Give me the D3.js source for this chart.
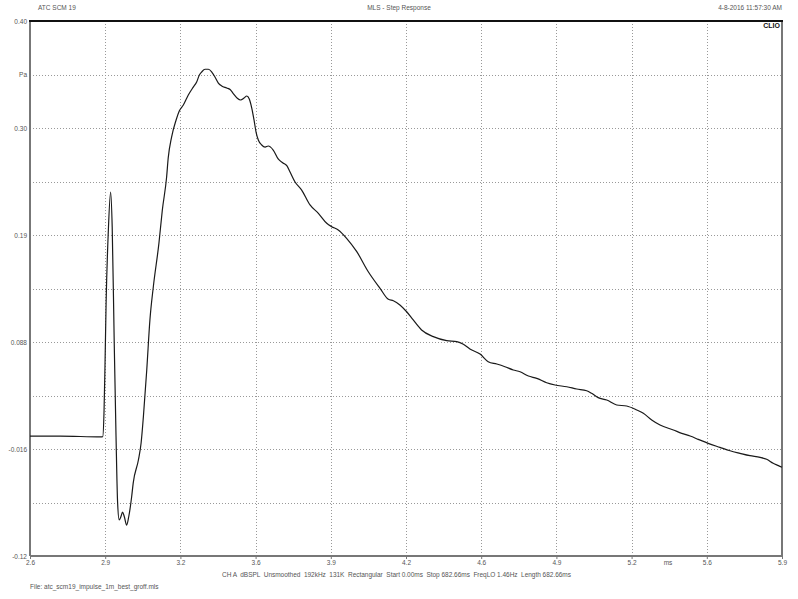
<!DOCTYPE html>
<html><head><meta charset="utf-8">
<script src="https://cdn.jsdelivr.net/npm/d3@7"></script>
<style>body{margin:0;background:#fff}svg text{font-family:"Liberation Sans",Arial,sans-serif;}</style>
</head><body><svg id="c" width="798" height="599"></svg>
<script>
const title = "MLS - Step Response";
const leftTitle = "ATC SCM 19";
const dateText = "4-8-2016 11:57:30 AM";
const xTickLabels = ["2.6","2.9","3.2","3.6","3.9","4.2","4.6","4.9","5.2","5.6","5.9"];
const yTickLabels = ["-0.12","","-0.016","","0.088","","0.19","","0.30","","0.40"];
const yUnitLabel = "Pa";
const xUnitLabel = "ms";
const timeMs = [2.600,2.733,2.914,2.922,2.928,2.932,2.937,2.947,2.957,2.964,2.973,2.981,2.988,2.995,3.002,3.010,3.018,3.028,3.037,3.050,3.057,3.080,3.092,3.102,3.117,3.131,3.146,3.171,3.186,3.205,3.212,3.227,3.247,3.261,3.279,3.301,3.323,3.338,3.350,3.360,3.375,3.390,3.405,3.419,3.434,3.449,3.471,3.486,3.500,3.518,3.533,3.548,3.560,3.571,3.582,3.592,3.601,3.611,3.626,3.641,3.655,3.677,3.699,3.720,3.738,3.751,3.773,3.803,3.840,3.877,3.914,3.936,3.965,4.002,4.047,4.098,4.150,4.187,4.209,4.238,4.268,4.297,4.334,4.386,4.445,4.490,4.519,4.548,4.593,4.629,4.667,4.703,4.740,4.770,4.807,4.844,4.888,4.925,4.977,5.021,5.065,5.087,5.116,5.154,5.198,5.242,5.287,5.316,5.353,5.390,5.449,5.486,5.523,5.559,5.603,5.655,5.700,5.744,5.788,5.833,5.862,5.891,5.914,5.930];
const pressurePa = [-0.0034,-0.0034,-0.0043,-0.0041,0.0219,0.0637,0.1259,0.1969,0.2338,0.1998,0.0870,-0.0043,-0.0685,-0.0850,-0.0821,-0.0773,-0.0821,-0.0899,-0.0821,-0.0627,-0.0491,-0.0267,-0.0102,0.0151,0.0608,0.1094,0.1415,0.1842,0.2163,0.2484,0.2668,0.2872,0.3038,0.3125,0.3184,0.3281,0.3358,0.3407,0.3475,0.3504,0.3531,0.3531,0.3504,0.3456,0.3397,0.3368,0.3349,0.3334,0.3295,0.3249,0.3232,0.3252,0.3271,0.3242,0.3154,0.3038,0.2921,0.2843,0.2795,0.2775,0.2785,0.2746,0.2659,0.2620,0.2591,0.2535,0.2438,0.2357,0.2212,0.2131,0.2034,0.2001,0.1969,0.1888,0.1758,0.1563,0.1402,0.1295,0.1281,0.1240,0.1174,0.1094,0.0997,0.0932,0.0893,0.0883,0.0858,0.0812,0.0763,0.0689,0.0666,0.0640,0.0608,0.0591,0.0549,0.0527,0.0484,0.0462,0.0445,0.0423,0.0406,0.0381,0.0339,0.0316,0.0268,0.0258,0.0219,0.0187,0.0122,0.0073,0.0025,-0.0008,-0.0034,-0.0066,-0.0105,-0.0144,-0.0177,-0.0202,-0.0225,-0.0241,-0.0260,-0.0299,-0.0322,-0.0338];
const infoLine = "CH A  dBSPL  Unsmoothed  192kHz  131K  Rectangular  Start 0.00ms  Stop 682.66ms  FreqLO 1.46Hz  Length 682.66ms";
const fileLine = "File: atc_scm19_impulse_1m_best_groff.mls";

const svg = d3.select("#c");
const L=30,R=782,T=21,B=556;
const FS = 6.5;
const x = d3.scaleLinear().domain([2.6,5.93]).range([L,R]);
const y = d3.scaleLinear().domain([-0.12,0.40]).range([B,T]);
const xTicks = d3.range(11).map(i=>2.6+i*(5.93-2.6)/10);
const yTicks = d3.range(11).map(i=>-0.12+i*0.052);
const txt = "#555";

// grid
svg.append("g").selectAll("line").data(xTicks.slice(1,-1)).join("line")
  .attr("x1",d=>Math.round(x(d))+0.5).attr("x2",d=>Math.round(x(d))+0.5).attr("y1",T).attr("y2",B)
  .attr("stroke","#999").attr("stroke-dasharray","1,2").attr("stroke-width",1);
svg.append("g").selectAll("line").data(yTicks.slice(1,-1)).join("line")
  .attr("y1",d=>Math.round(y(d))+0.5).attr("y2",d=>Math.round(y(d))+0.5).attr("x1",L).attr("x2",R)
  .attr("stroke","#999").attr("stroke-dasharray","1,2").attr("stroke-width",1);

// frame
svg.append("line").attr("x1",L).attr("x2",L).attr("y1",T).attr("y2",B).attr("stroke","#777").attr("stroke-width",2);
svg.append("line").attr("x1",R).attr("x2",R).attr("y1",T).attr("y2",B).attr("stroke","#777").attr("stroke-width",2);
svg.append("line").attr("x1",L).attr("x2",R).attr("y1",B).attr("y2",B).attr("stroke","#777").attr("stroke-width",2);
svg.append("line").attr("x1",L-1).attr("x2",R+1).attr("y1",T).attr("y2",T).attr("stroke","#111").attr("stroke-width",2);

// x axis ticks & labels
const xa = d3.axisBottom(x).tickValues(xTicks).tickSize(3).tickFormat((d,i)=>xTickLabels[i]);
const gx = svg.append("g").attr("transform",`translate(0,${B})`).call(xa);
gx.select(".domain").remove();
gx.selectAll("line").attr("stroke","#777");
gx.selectAll("text").attr("fill",txt).attr("font-size",FS).attr("dy",0).attr("y",9);
svg.append("text").attr("x",668).attr("y",B+9).attr("text-anchor","middle")
  .attr("fill",txt).attr("font-size",FS).text(xUnitLabel);

// y axis labels
const ya = d3.axisLeft(y).tickValues(yTicks).tickSize(0).tickPadding(3).tickFormat((d,i)=>yTickLabels[i]);
const gy = svg.append("g").attr("transform",`translate(${L},0)`).call(ya);
gy.select(".domain").remove();
gy.selectAll("text").attr("fill",txt).attr("font-size",FS);
svg.append("text").attr("x",L-3).attr("y",y(yTicks[9])).attr("dy","0.32em").attr("text-anchor","end")
  .attr("fill",txt).attr("font-size",FS).text(yUnitLabel);

// curve
const line = d3.line().x((d,i)=>x(timeMs[i])).y((d,i)=>y(pressurePa[i])).curve(d3.curveMonotoneX);
svg.append("path").attr("d",line(pressurePa)).attr("fill","none").attr("stroke","#1a1a1a").attr("stroke-width",1.2);

// texts
svg.append("text").attr("x",38).attr("y",10).attr("fill",txt).attr("font-size",FS).text(leftTitle);
svg.append("text").attr("x",399).attr("y",10).attr("text-anchor","middle").attr("fill",txt).attr("font-size",FS).text(title);
svg.append("text").attr("x",782).attr("y",10).attr("text-anchor","end").attr("fill",txt).attr("font-size",FS).text(dateText);
svg.append("text").attr("x",780).attr("y",28).attr("text-anchor","end").attr("fill","#111").attr("font-size",7).attr("font-weight","bold").text("CLIO");
svg.append("text").attr("x",222).attr("y",577).attr("fill",txt).attr("font-size",FS)
  .attr("textLength",349).attr("lengthAdjust","spacing").style("white-space","pre").text(infoLine);
svg.append("text").attr("x",30).attr("y",589).attr("fill",txt).attr("font-size",FS).text(fileLine);
</script></body></html>
